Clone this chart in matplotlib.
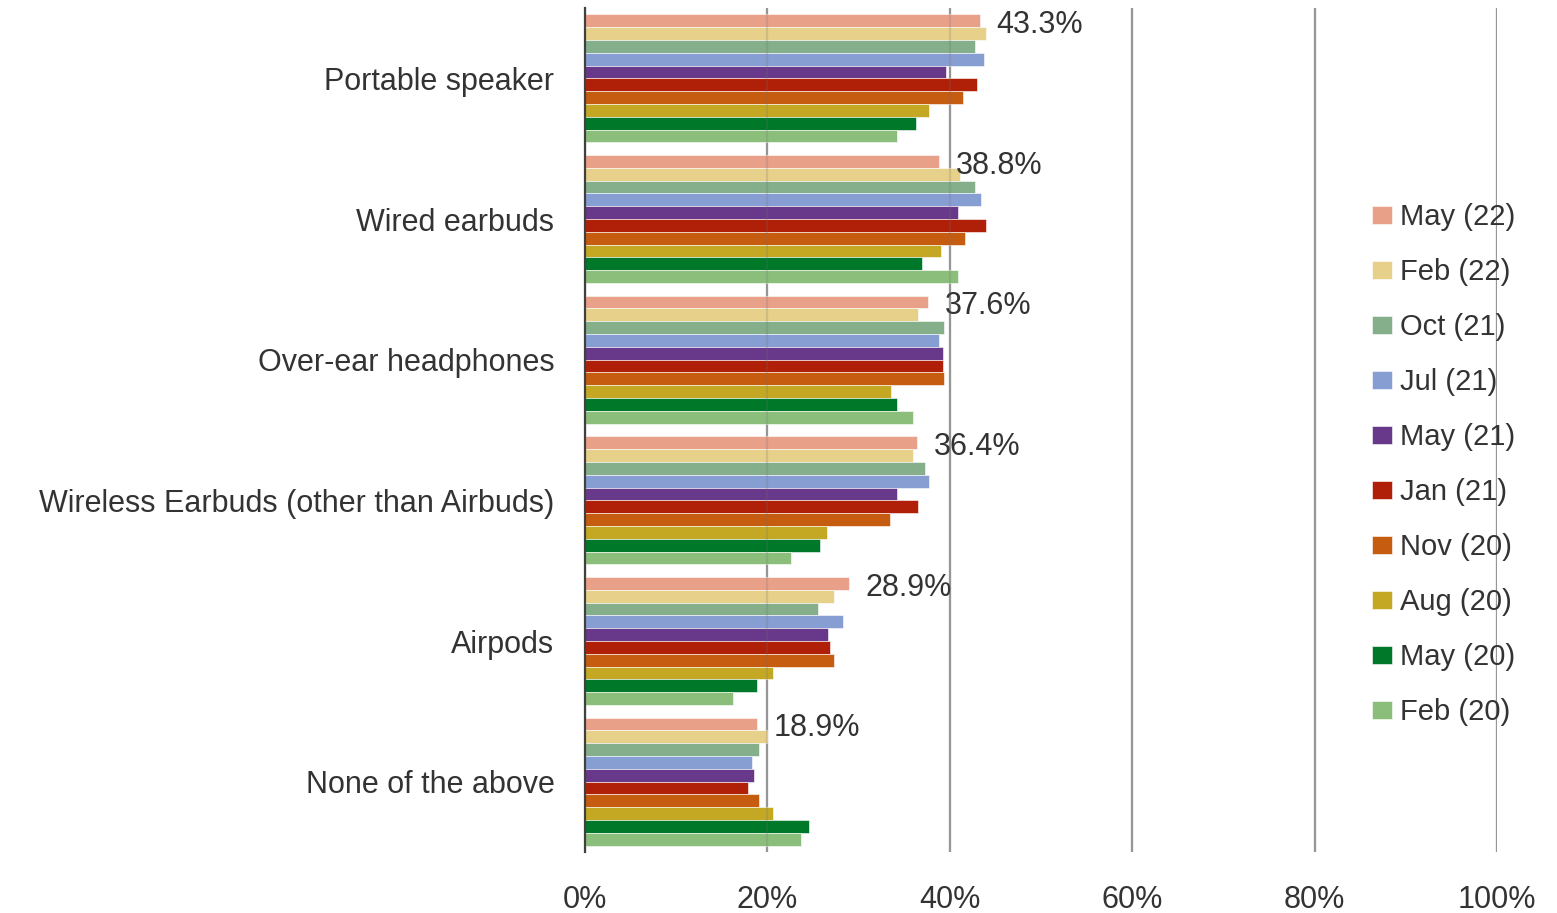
import matplotlib.pyplot as plt
import numpy as np

plt.rcParams['font.family'] = ['Liberation Sans', 'DejaVu Sans']

categories = ['Portable speaker', 'Wired earbuds', 'Over-ear headphones',
              'Wireless Earbuds (other than Airbuds)', 'Airpods', 'None of the above']
series = ['May (22)', 'Feb (22)', 'Oct (21)', 'Jul (21)', 'May (21)',
          'Jan (21)', 'Nov (20)', 'Aug (20)', 'May (20)', 'Feb (20)']
colors = ['#E8A088', '#E6D08A', '#84AF8A', '#879ED3', '#68388A',
          '#B01F08', '#C55C10', '#C4A823', '#00782A', '#8BBE7A']

may22 = [43.3, 38.8, 37.6, 36.4, 28.9, 18.9]
feb22 = [44.0, 41.1, 36.5, 36.0, 27.3, 20.0]
oct21 = [42.8, 42.8, 39.4, 37.3, 25.6, 19.1]
jul21 = [43.8, 43.4, 38.8, 37.7, 28.3, 18.3]
may21 = [39.6, 40.9, 39.2, 34.2, 26.6, 18.5]
jan21 = [43.0, 44.0, 39.2, 36.5, 26.9, 17.9]
nov20 = [41.5, 41.7, 39.4, 33.4, 27.3, 19.1]
aug20 = [37.7, 39.0, 33.5, 26.5, 20.6, 20.6]
may20 = [36.3, 36.9, 34.2, 25.8, 18.9, 24.6]
feb20 = [34.2, 40.9, 36.0, 22.6, 16.2, 23.7]
values = [may22, feb22, oct21, jul21, may21, jan21, nov20, aug20, may20, feb20]

fig = plt.figure(figsize=(15.57, 9.13), dpi=100)
ax = fig.add_axes([0.3757, 0.0668, 0.5858, 0.9244])

h = 0.091
y = np.arange(len(categories))
for j, (name, vals, c) in enumerate(zip(series, values, colors)):
    ax.barh(y + (j - 4.5) * h, vals, height=h, color=c, label=name,
            edgecolor='white', linewidth=0.4, zorder=2)

# labels for the latest wave
for i, v in enumerate(may22):
    ax.annotate(f'{v}%', (v, i - 4.5 * h), xytext=(12, -3), textcoords='offset points',
                va='center', ha='left', fontsize=22, color='#333333')

xt = np.arange(0, 101, 20)
ax.set_xlim(0, 100)
ax.set_ylim(len(categories) - 0.5, -0.5)
ax.set_xticks(xt)
ax.set_xticklabels([f'{t}%' for t in xt])
ax.set_yticks(y)
ax.set_yticklabels(categories)
ax.tick_params(axis='x', length=0, pad=24, labelsize=22, labelcolor='#333333')
ax.tick_params(axis='y', length=0, pad=22, labelsize=22, labelcolor='#333333')
ax.xaxis.grid(True, color='#A0A0A0', linewidth=1.6, zorder=1)
ax.set_axisbelow(True)
# faint gridlines showing through the bars
ax.vlines(xt[1:], -0.5, len(categories) - 0.5, color='#707070', linewidth=1.6,
          alpha=0.2, zorder=3)
for s in ['top', 'right', 'bottom']:
    ax.spines[s].set_visible(False)
ax.spines['left'].set_color('#404040')
ax.spines['left'].set_linewidth(1.6)
ax.spines['left'].set_zorder(4)

fig.legend(loc='center left', bbox_to_anchor=(0.881, 0.4912), frameon=False,
           fontsize=21, labelspacing=0.925, handlelength=0.68, handleheight=0.58,
           handletextpad=0.3, borderpad=0, borderaxespad=0, labelcolor='#333333')

fig.savefig('out.png', dpi=100)
